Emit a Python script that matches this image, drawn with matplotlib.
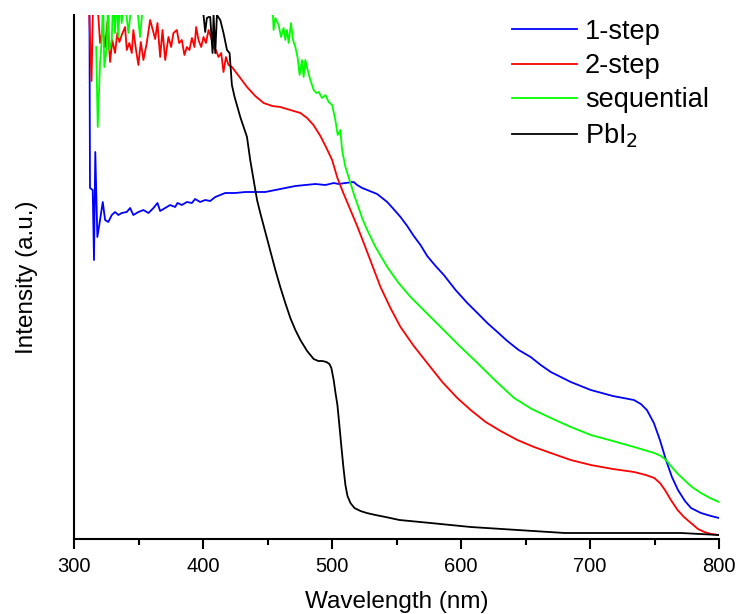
import matplotlib
matplotlib.use("Agg")
import matplotlib.pyplot as plt
from matplotlib.ticker import MultipleLocator

plt.rcParams["font.family"] = ["Liberation Sans", "DejaVu Sans"]

# Absorbance-type spectra, intensity in arbitrary units
wl_1step = [311.9, 312.4, 314.5, 315.5, 316.5, 318.1, 319.6, 322.3, 324.1, 326.6,
            329.3, 331.8, 334.4, 337.0, 340.9, 343.5, 346.0, 349.9, 353.8, 357.7,
            361.6, 364.7, 366.8, 370.7, 374.5, 378.4, 380.2, 383.6, 387.5, 391.4,
            393.9, 397.8, 401.7, 405.6, 409.5, 417.2, 425.0, 432.8, 440.5, 448.3,
            456.1, 463.8, 471.6, 479.3, 487.1, 494.9, 501.3, 505.2, 510.4, 516.8,
            519.5, 523.4, 527.3, 535.0, 542.8, 547.7, 553.1, 558.3, 563.4, 568.6,
            573.8, 580.3, 586.7, 595.8, 604.9, 612.7, 620.4, 628.2, 635.9, 644.7,
            654.0, 661.8, 669.6, 685.1, 700.6, 717.7, 734.0, 739.4, 744.1, 749.5,
            754.2, 758.9, 763.5, 768.2, 773.6, 778.3, 786.0, 793.8, 800.0]
int_1step = [560, 351, 349, 279, 387, 302, 314, 337, 319, 317,
             324, 327, 324, 326, 327, 331, 324, 327, 329, 326,
             331, 336, 328, 331, 334, 332, 336, 334, 337, 336,
             340, 337, 339, 338, 342, 346, 346, 347, 347, 347,
             349, 351, 353, 354, 355, 354, 356, 355, 356, 357,
             354, 351, 349, 345, 337, 330, 322, 313, 303, 294,
             283, 273, 264, 249, 236, 226, 216, 207, 198, 189,
             182, 174, 167, 157, 149, 143, 139, 135, 129, 116,
             99, 79, 62, 49, 38, 31, 26, 23, 21]

wl_2step = [310.9, 313.6, 315.1, 318.9, 320.2, 322.3, 324.1, 325.9, 328.0, 329.7,
            331.8, 333.6, 335.2, 337.0, 339.6, 340.9, 342.9, 344.8, 346.0, 348.1,
            349.9, 351.8, 353.8, 356.4, 359.0, 361.1, 362.9, 364.7, 366.8, 368.6,
            370.7, 373.2, 375.3, 377.1, 379.7, 381.5, 383.6, 385.6, 387.5, 389.5,
            391.4, 393.4, 394.7, 396.5, 398.6, 400.4, 402.3, 404.3, 406.4, 408.2,
            410.0, 412.0, 414.1, 415.9, 417.8, 419.8, 422.4, 428.9, 434.1, 440.5,
            447.0, 453.7, 459.9, 467.7, 475.5, 480.7, 485.6, 491.0, 495.7, 500.1,
            504.2, 509.1, 514.3, 519.5, 524.6, 531.1, 537.6, 545.3, 553.1, 563.4,
            573.8, 585.5, 597.1, 607.5, 619.1, 630.7, 643.7, 656.6, 669.6, 685.1,
            700.6, 717.7, 734.2, 743.3, 749.8, 754.2, 758.1, 762.7, 767.9, 772.8,
            778.3, 783.7, 788.6, 793.8, 800.0]
int_2step = [560, 458, 560, 522, 496, 509, 492, 517, 477, 499,
             486, 506, 497, 504, 512, 489, 496, 486, 509, 489,
             474, 497, 479, 496, 519, 509, 500, 516, 482, 509,
             479, 502, 492, 506, 509, 496, 499, 484, 492, 489,
             501, 492, 512, 499, 492, 502, 496, 509, 501, 491,
             489, 482, 486, 467, 482, 474, 472, 461, 452, 443,
             436, 433, 432, 429, 426, 421, 414, 403, 391, 379,
             361, 345, 329, 313, 296, 274, 252, 231, 212, 193,
             176, 157, 141, 129, 117, 108, 99, 92, 86, 79,
             74, 70, 67, 64, 61, 56, 49, 39, 29, 22,
             16, 10, 7, 5, 4]

wl_seq = [317.2, 318.4, 320.2, 321.5, 322.5, 323.5, 325.4, 326.4, 327.4, 329.3,
          330.3, 331.8, 333.0, 334.4, 335.7, 337.0, 338.8, 342.2, 343.5, 345.0,
          348.1, 351.2, 352.6, 355.1, 400.0, 452.6, 454.3, 454.7, 456.1, 458.6,
          460.5, 462.5, 463.8, 465.1, 466.4, 468.2, 469.8, 471.6, 473.4, 474.9,
          476.8, 478.0, 479.3, 480.7, 483.2, 485.8, 487.9, 489.7, 492.3, 494.9,
          497.4, 500.1, 502.6, 504.4, 506.5, 507.8, 510.4, 514.3, 517.4, 520.7,
          523.6, 527.3, 533.7, 542.8, 551.6, 560.9, 572.5, 584.2, 598.1, 612.7,
          626.9, 641.1, 654.8, 669.6, 685.1, 700.6, 717.7, 734.2, 749.8, 755.0,
          758.9, 762.7, 767.4, 773.1, 779.0, 786.0, 793.0, 800.0]
int_seq = [492, 412, 476, 499, 540, 472, 492, 540, 489, 499,
           540, 506, 545, 502, 545, 516, 545, 506, 522, 550,
           545, 502, 522, 560, 600, 530, 522, 509, 521, 514,
           502, 511, 499, 509, 496, 516, 499, 492, 481, 464,
           479, 462, 479, 471, 459, 449, 446, 447, 441, 444,
           437, 434, 419, 404, 409, 389, 372, 356, 343, 331,
           320, 309, 292, 272, 256, 242, 227, 212, 194, 176,
           158, 141, 130, 121, 112, 104, 98, 92, 86, 83,
           79, 73, 66, 59, 52, 46, 41, 37]

wl_pbi2 = [396.3, 400.4, 401.7, 403.0, 404.3, 405.6, 407.4, 408.2, 409.5, 410.8,
           413.4, 415.9, 418.6, 420.6, 422.4, 424.5, 428.9, 434.1, 436.6, 441.9,
           444.4, 448.3, 452.2, 456.1, 459.9, 463.8, 467.7, 471.6, 475.5, 480.7,
           485.8, 489.4, 492.5, 495.7, 498.0, 499.5, 501.3, 502.6, 504.2, 505.7,
           507.3, 508.9, 510.4, 512.0, 514.3, 517.4, 522.1, 526.9, 533.7, 541.5,
           552.3, 576.4, 607.5, 643.9, 680.4, 708.4, 734.8, 770.5, 800.0]
int_pbi2 = [560, 524, 507, 521, 522, 522, 486, 524, 486, 524,
            519, 506, 489, 486, 454, 442, 422, 402, 379, 339,
            326, 307, 288, 269, 252, 236, 221, 209, 199, 188,
            180, 178, 178, 177, 175, 171, 159, 147, 134, 114,
            92, 71, 54, 43, 36, 31, 28, 26, 24, 22,
            19, 16, 12, 9, 6, 6, 6, 6, 4]

series = [
    ("1-step", wl_1step, int_1step, "#0000ff"),
    ("2-step", wl_2step, int_2step, "#ff0000"),
    ("sequential", wl_seq, int_seq, "#00ff00"),
    ("PbI$_2$", wl_pbi2, int_pbi2, "#000000"),
]

fig = plt.figure(figsize=(7.37, 6.14), dpi=100)
ax = fig.add_axes([74 / 737, 1 - 539 / 614, 645 / 737, 524 / 614])

for label, x, y, c in series:
    ax.plot(x, y, color=c, lw=1.3, label=label)

ax.set_xlim(300, 800)
ax.set_ylim(0, 524)
ax.xaxis.set_major_locator(MultipleLocator(100))
ax.xaxis.set_minor_locator(MultipleLocator(50))
ax.set_yticks([])
for s in ("top", "right"):
    ax.spines[s].set_visible(False)
for s in ("left", "bottom"):
    ax.spines[s].set_linewidth(1.5)
ax.tick_params(axis="x", which="major", direction="out", length=7, width=1.5,
               labelsize=14.5, pad=6)
ax.tick_params(axis="x", which="minor", direction="out", length=4.5, width=1.5)

ax.set_xlabel("Wavelength (nm)", fontsize=17.5, labelpad=10.5)
ax.set_ylabel("Intensity (a.u.)", fontsize=17.5, labelpad=26)

leg = ax.legend(loc="upper left", bbox_to_anchor=(0.679, 0.993), frameon=False,
                fontsize=19.5, handlelength=2.4, handletextpad=0.3,
                labelspacing=0.31, borderpad=0, borderaxespad=0)
for h in leg.get_lines():
    h.set_linewidth(1.3)

fig.savefig("out.png", dpi=100)
